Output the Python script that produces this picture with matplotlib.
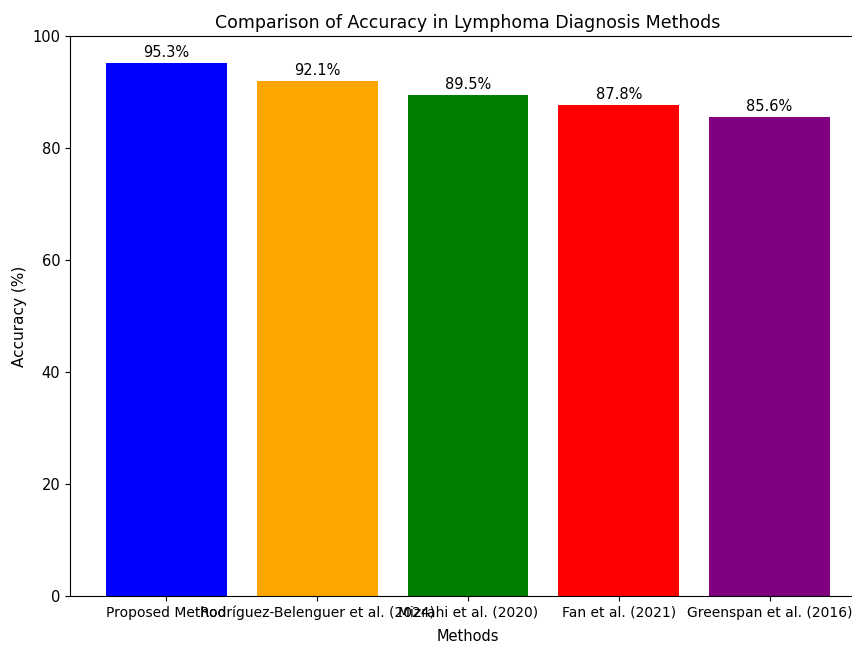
import matplotlib
matplotlib.use("Agg")
from matplotlib import pyplot as plt

methods = ['Proposed Method', 'Rodríguez-Belenguer et al. (2024)', 'Mizrahi et al. (2020)',
           'Fan et al. (2021)', 'Greenspan et al. (2016)']
accuracy = [95.3, 92.1, 89.5, 87.8, 85.6]
colors = ['blue', 'orange', 'green', 'red', 'purple']

fig = plt.figure(figsize=(8.53, 6.48), dpi=100)
# axes run a little past the right edge, as in the cropped reference
ax = fig.add_axes([70 / 853, 52 / 648, 796 / 853, 560 / 648])

bars = ax.bar(methods, accuracy, color=colors)
for bar, acc in zip(bars, accuracy):
    ax.text(bar.get_x() + bar.get_width() / 2, bar.get_height() + 0.5, f'{acc}%',
            ha='center', va='bottom', fontsize=10.5)

ax.set_title('Comparison of Accuracy in Lymphoma Diagnosis Methods', fontsize=12.5)
ax.set_xlabel('Methods', fontsize=10.5, labelpad=6)
ax.set_ylabel('Accuracy (%)', fontsize=11)
ax.tick_params(axis='x', labelsize=10)
ax.tick_params(axis='y', labelsize=10.5)

fig.savefig('out.png', dpi=100)
